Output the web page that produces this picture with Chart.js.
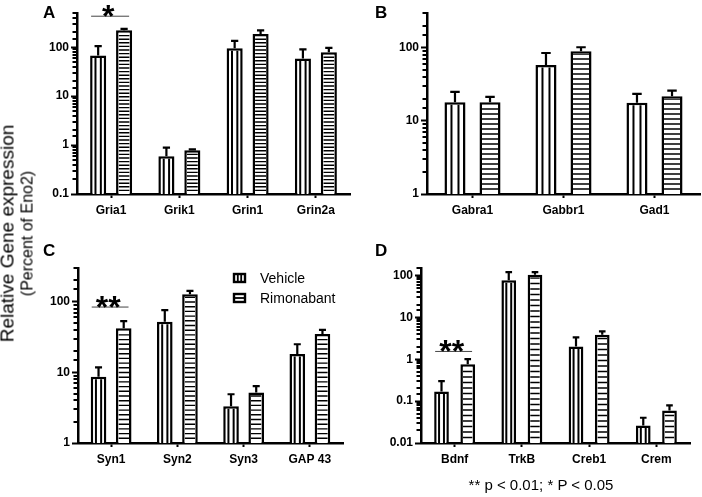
<!DOCTYPE html>
<html>
<head>
<meta charset="utf-8">
<script src="https://cdn.jsdelivr.net/npm/chart.js@4.4.1/dist/chart.umd.min.js"></script>
<style>
  body { margin: 0; background: #fff; }
  #fig { position: relative; width: 702px; height: 497px; font-family: "Liberation Sans", Arial, sans-serif; color: #000; overflow: hidden; }
  #fig canvas { position: absolute; }
  .letter { position: absolute; font-weight: bold; font-size: 17px; line-height: 16px; }
  #ytitle { position: absolute; width: 260px; left: -113px; top: 214px; line-height: 19px; text-align: center; transform: rotate(-90deg); }
  #ytitle .l1 { font-size: 19px; }
  #ytitle .l2 { font-size: 16px; }
  #note { position: absolute; left: 441px; top: 476px; width: 200px; text-align: center; font-size: 15px; line-height: 17px; }
</style>
</head>
<body>
<div id="fig">
  <canvas id="panelA" width="351" height="250" style="left:0;top:0"></canvas>
  <canvas id="panelB" width="351" height="250" style="left:351px;top:0"></canvas>
  <canvas id="panelC" width="351" height="247" style="left:0;top:250px"></canvas>
  <canvas id="panelD" width="351" height="247" style="left:351px;top:250px"></canvas>
  <div class="letter" style="left:43px;top:5px">A</div>
  <div class="letter" style="left:375px;top:5px">B</div>
  <div class="letter" style="left:43px;top:243px">C</div>
  <div class="letter" style="left:375px;top:243px">D</div>
  <div id="ytitle"><span class="l1">Relative Gene expression</span><br><span class="l2">(Percent of Eno2)</span></div>
  <div id="note">** p &lt; 0.01; * P &lt; 0.05</div>
</div>
<script>
const FONT = "'Liberation Sans', Arial, sans-serif";

// A - glutamate receptors (mean, SEM)
const catsA = ["Gria1", "Grik1", "Grin1", "Grin2a"];
const vehA = [68, 0.59, 95, 59];
const vehErrA = [37, 0.30, 40, 31];
const rimA = [223, 0.78, 187, 79];
const rimErrA = [14, 0.04, 33, 18];

// B - GABA related
const catsB = ["Gabra1", "Gabbr1", "Gad1"];
const vehB = [18, 58.5, 17.7];
const vehErrB = [7, 26.5, 5.8];
const rimB = [18, 90, 21.7];
const rimErrB = [3.4, 12, 4.3];

// C - synaptic
const catsC = ["Syn1", "Syn2", "Syn3", "GAP 43"];
const vehC = [8.7, 52, 3.3, 18.2];
const vehErrC = [3.1, 24, 1.6, 6.8];
const rimC = [42, 127, 5.2, 35];
const rimErrC = [11, 15, 1.2, 5];

// D - neurotrophic / transcription
const catsD = ["Bdnf", "TrkB", "Creb1", "Crem"];
const vehD = [0.17, 76, 2.0, 0.026];
const vehErrD = [0.13, 44, 1.3, 0.014];
const rimD = [0.76, 104, 3.85, 0.06];
const rimErrD = [0.24, 16, 0.75, 0.019];

const seriesNames = ["Vehicle", "Rimonabant"];

const isDecade = (v) => Math.abs(Math.log10(v) - Math.round(Math.log10(v))) < 1e-6;

// draws stripes, error bars, minor ticks, significance marks and legend
function decor(opt, errs) {
  return {
    id: "decor",
    afterDatasetsDraw(chart) {
      const ctx = chart.ctx;
      const ys = chart.scales.y;
      const bw = 2.5;
      chart.data.datasets.forEach((ds, di) => {
        const meta = chart.getDatasetMeta(di);
        meta.data.forEach((bar, i) => {
          const p = bar.getProps(["x", "y", "base", "width"], true);
          const l = p.x - p.width / 2 + bw, r = p.x + p.width / 2 - bw;
          ctx.save();
          ctx.beginPath();
          ctx.rect(l, p.y + bw, r - l, p.base - p.y - bw);
          ctx.clip();
          ctx.strokeStyle = "#000";
          ctx.beginPath();
          if (di === 0) {
            ctx.lineWidth = 2;
            [-1, 1].forEach((s) => {
              const xx = p.x + s * p.width / 6;
              ctx.moveTo(xx, p.y);
              ctx.lineTo(xx, p.base);
            });
          } else {
            ctx.lineWidth = 1.4;
            for (let yy = p.base - opt.gap; yy > p.y + bw; yy -= opt.gap) {
              ctx.moveTo(l, yy);
              ctx.lineTo(r, yy);
            }
          }
          ctx.stroke();
          ctx.restore();

          // error bar (upper only)
          const topV = ds.data[i] + errs[di][i];
          const py = ys.getPixelForValue(topV);
          const cw = p.width * 0.45;
          ctx.save();
          ctx.strokeStyle = "#000";
          ctx.lineWidth = 2.2;
          ctx.beginPath();
          ctx.moveTo(p.x, p.y);
          ctx.lineTo(p.x, py);
          ctx.moveTo(p.x - cw / 2, py);
          ctx.lineTo(p.x + cw / 2, py);
          ctx.stroke();
          ctx.restore();
        });
      });

      // significance brackets
      (opt.sig || []).forEach((s) => {
        const b0 = chart.getDatasetMeta(0).data[s.index].getProps(["x", "width"], true);
        const b1 = chart.getDatasetMeta(1).data[s.index].getProps(["x", "width"], true);
        const x0 = b0.x - b0.width / 2 + 1, x1 = b1.x + b1.width / 2 - 3;
        const py = ys.getPixelForValue(s.at);
        ctx.save();
        ctx.strokeStyle = "#444";
        ctx.lineWidth = 1;
        ctx.beginPath();
        ctx.moveTo(x0, py);
        ctx.lineTo(x1, py);
        ctx.stroke();
        ctx.fillStyle = "#000";
        ctx.font = "bold 32px " + FONT;
        ctx.textAlign = "center";
        ctx.textBaseline = "alphabetic";
        ctx.fillText(s.text, (x0 + x1) / 2 - 2, py + 11);
        ctx.restore();
      });
    },
    afterDraw(chart) {
      const ctx = chart.ctx;
      const ys = chart.scales.y;
      const a = chart.chartArea;
      ctx.save();
      ctx.strokeStyle = "#000";
      ctx.lineWidth = 1.8;
      ctx.beginPath();
      ys.ticks.forEach((t) => {
        if (isDecade(t.value)) return;
        const py = Math.round(ys.getPixelForValue(t.value));
        ctx.moveTo(a.left - 4.5, py);
        ctx.lineTo(a.left, py);
      });
      ctx.stroke();
      ctx.restore();

      if (opt.legend) {
        const bx = a.right - 110, rows = [a.top + 10, a.top + 30];
        ctx.save();
        rows.forEach((cy, k) => {
          const h = 8, w = 13;
          ctx.strokeStyle = "#000";
          ctx.lineWidth = 2.4;
          ctx.strokeRect(bx + 1, cy - h / 2, w - 2, h);
          ctx.beginPath();
          ctx.lineWidth = 1.8;
          if (k === 0) {
            ctx.moveTo(bx + 4.8, cy - h / 2); ctx.lineTo(bx + 4.8, cy + h / 2);
            ctx.moveTo(bx + 8.2, cy - h / 2); ctx.lineTo(bx + 8.2, cy + h / 2);
          } else {
            ctx.moveTo(bx + 1, cy); ctx.lineTo(bx + w - 1, cy);
          }
          ctx.stroke();
          ctx.fillStyle = "#000";
          ctx.font = "14px " + FONT;
          ctx.textBaseline = "middle";
          ctx.textAlign = "left";
          ctx.fillText(seriesNames[k], bx + 27, cy + 1);
        });
        ctx.restore();
      }
    }
  };
}

function buildPanel(id, cats, veh, vehErr, rim, rimErr, opt) {
  const canvas = document.getElementById(id);
  const tickFont = { family: FONT, size: 12, weight: "bold" };
  const barOpts = {
    backgroundColor: "#fff",
    borderColor: "#000",
    borderWidth: 2.5,
    barPercentage: opt.barPct,
    categoryPercentage: opt.catPct
  };
  return new Chart(canvas, {
    type: "bar",
    data: {
      labels: cats,
      datasets: [
        Object.assign({ label: seriesNames[0], data: veh }, barOpts),
        Object.assign({ label: seriesNames[1], data: rim }, barOpts)
      ]
    },
    options: {
      responsive: false,
      animation: false,
      layout: { padding: { top: opt.area.top, right: canvas.width - opt.area.right, left: 0, bottom: 0 } },
      plugins: { legend: { display: false }, tooltip: { enabled: false } },
      scales: {
        x: {
          offset: true,
          grid: { offset: false, drawOnChartArea: false, tickLength: 4, tickWidth: 2, tickColor: "#000" },
          border: { color: "#000", width: 2.5 },
          ticks: { color: "#000", padding: 5, font: tickFont, maxRotation: 0, autoSkip: false },
          afterFit: (s) => { s.height = canvas.height - opt.area.bottom; }
        },
        y: {
          type: "logarithmic",
          min: opt.yMin,
          max: opt.yMax,
          grid: {
            drawOnChartArea: false,
            tickLength: 6,
            tickWidth: 2,
            tickColor: (c) => (c.tick && isDecade(c.tick.value) ? "#000" : "rgba(0,0,0,0)")
          },
          border: { color: "#000", width: 2.5 },
          ticks: {
            autoSkip: false,
            color: "#000",
            padding: 2,
            font: tickFont,
            callback: (v) => (isDecade(v) ? String(+Number(v).toPrecision(2)) : "")
          },
          afterFit: (s) => { s.width = opt.area.left; }
        }
      }
    },
    plugins: [decor(opt, [vehErr, rimErr])]
  });
}

buildPanel("panelA", catsA, vehA, vehErrA, rimA, rimErrA, {
  yMin: 0.1, yMax: 500,
  area: { left: 77, top: 13, right: 350, bottom: 194 },
  barPct: 0.62, catPct: 0.76, gap: 3.6,
  sig: [{ index: 0, text: "*", at: 430 }]
});

buildPanel("panelB", catsB, vehB, vehErrB, rimB, rimErrB, {
  yMin: 1, yMax: 300,
  area: { left: 76, top: 13, right: 349, bottom: 194 },
  barPct: 0.6, catPct: 0.77, gap: 5
});

buildPanel("panelC", catsC, vehC, vehErrC, rimC, rimErrC, {
  yMin: 1, yMax: 300,
  area: { left: 78, top: 18, right: 343, bottom: 193 },
  barPct: 0.62, catPct: 0.76, gap: 4.7,
  sig: [{ index: 0, text: "**", at: 84 }],
  legend: true
});

buildPanel("panelD", catsD, vehD, vehErrD, rimD, rimErrD, {
  yMin: 0.01, yMax: 150,
  area: { left: 70, top: 18, right: 339, bottom: 193 },
  barPct: 0.56, catPct: 0.78, gap: 5.5,
  sig: [{ index: 0, text: "**", at: 1.53 }]
});
</script>
</body>
</html>
